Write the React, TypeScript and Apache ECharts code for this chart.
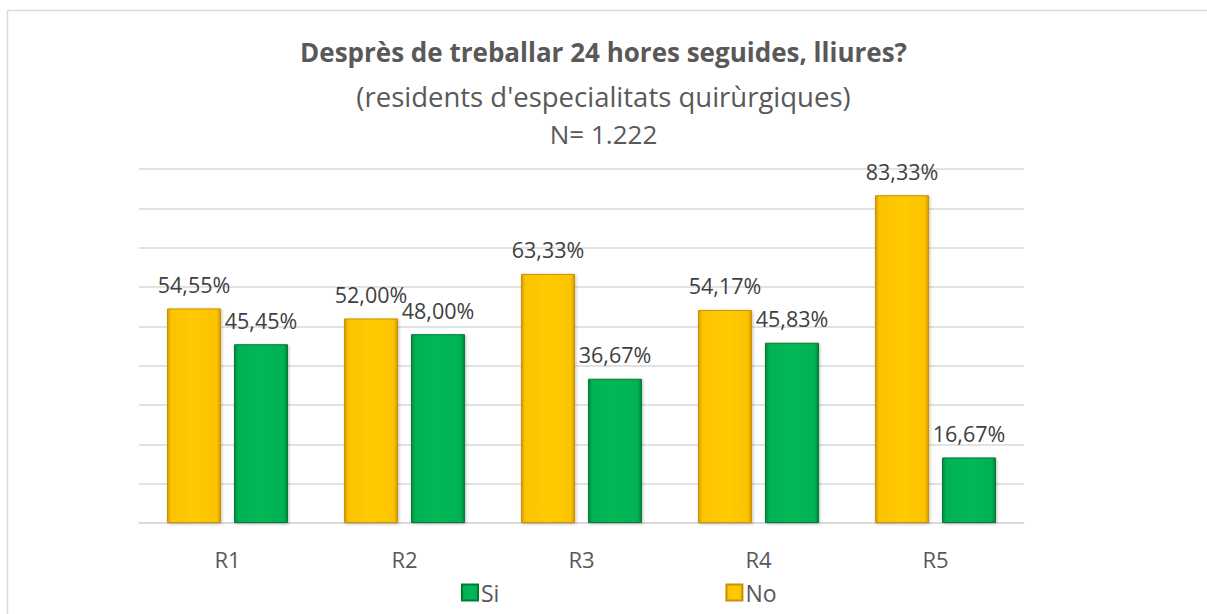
import React, { useEffect, useRef } from "react";
import * as echarts from "echarts";

const categories = ["R1", "R2", "R3", "R4", "R5"];
const noValues = [54.55, 52.0, 63.33, 54.17, 83.33];
const siValues = [45.45, 48.0, 36.67, 45.83, 16.67];
const titleText = "Desprès de treballar 24 hores seguides, lliures?";
const subtitleText = "(residents d'especialitats quirùrgiques)";
const nText = "N= 1.222";

const FONT = "'Open Sans', 'Noto Sans', sans-serif";

const fmt = (v: number) => v.toFixed(2).replace(".", ",") + "%";

const yellowGrad = new echarts.graphic.LinearGradient(0, 0, 1, 0, [
  { offset: 0, color: "#d99e00" },
  { offset: 0.07, color: "#fcc300" },
  { offset: 0.5, color: "#ffcb05" },
  { offset: 0.93, color: "#fcc300" },
  { offset: 1, color: "#d39800" },
]);
const greenGrad = new echarts.graphic.LinearGradient(0, 0, 1, 0, [
  { offset: 0, color: "#008a3e" },
  { offset: 0.07, color: "#00b152" },
  { offset: 0.5, color: "#03b858" },
  { offset: 0.93, color: "#00b152" },
  { offset: 1, color: "#00853c" },
]);

export default function App() {
  const ref = useRef<HTMLDivElement>(null);
  useEffect(() => {
    if (!ref.current) return;
    const chart = echarts.init(ref.current, null, { renderer: "svg" });
    const labelStyle = {
      show: true,
      position: "top" as const,
      distance: 13,
      color: "#404040",
      fontFamily: FONT,
      fontSize: 21.5,
      formatter: (p: any) => fmt(p.value),
    };
    chart.setOption({
      animation: false,
      backgroundColor: "#ffffff",
      title: [
        {
          text: titleText,
          left: "center",
          top: 34,
          textStyle: { color: "#595959", fontFamily: FONT, fontSize: 26, fontWeight: "bold" },
        },
        {
          text: subtitleText,
          left: "center",
          top: 77,
          textStyle: { color: "#595959", fontFamily: FONT, fontSize: 27.5, fontWeight: "normal" },
        },
        {
          text: nText,
          left: "center",
          top: 116,
          textStyle: { color: "#595959", fontFamily: FONT, fontSize: 26, fontWeight: "normal" },
        },
      ],
      graphic: [
        {
          type: "line",
          shape: { x1: 7.5, y1: 10.5, x2: 1207, y2: 10.5 },
          style: { stroke: "#d9d9d9", lineWidth: 1.5 },
          silent: true,
        },
        {
          type: "line",
          shape: { x1: 7.5, y1: 10.5, x2: 7.5, y2: 614 },
          style: { stroke: "#d9d9d9", lineWidth: 1.5 },
          silent: true,
        },
      ],
      legend: {
        left: 456,
        top: 576,
        itemWidth: 16,
        itemHeight: 16,
        itemGap: 226,
        icon: "rect",
        data: ["Si", "No"],
        textStyle: { color: "#595959", fontFamily: FONT, fontSize: 23, padding: [0, 0, 0, -2] },
      },
      grid: { left: 139, right: 183, top: 169, bottom: 91, containLabel: false },
      xAxis: {
        type: "category",
        data: categories,
        axisLine: { lineStyle: { color: "#d9d9d9", width: 1.5 } },
        axisTick: { show: false },
        axisLabel: { color: "#595959", fontFamily: FONT, fontSize: 22, margin: 25 },
      },
      yAxis: {
        type: "value",
        min: 0,
        max: 90,
        interval: 10,
        axisLabel: { show: false },
        axisLine: { show: false },
        axisTick: { show: false },
        splitLine: { lineStyle: { color: "#d9d9d9", width: 1.5 } },
      },
      series: [
        {
          name: "No",
          type: "bar",
          data: noValues,
          barWidth: 54,
          barGap: "24%",
          itemStyle: {
            color: yellowGrad,
            borderColor: "#c89200",
            borderWidth: 1,
            shadowColor: "rgba(0,0,0,0.25)",
            shadowBlur: 3,
            shadowOffsetX: 1,
            shadowOffsetY: 1,
          },
          label: labelStyle,
        },
        {
          name: "Si",
          type: "bar",
          data: siValues,
          barWidth: 54,
          barGap: "24%",
          itemStyle: {
            color: greenGrad,
            borderColor: "#007a36",
            borderWidth: 1,
            shadowColor: "rgba(0,0,0,0.25)",
            shadowBlur: 3,
            shadowOffsetX: 1,
            shadowOffsetY: 1,
          },
          label: labelStyle,
        },
      ],
    });
    return () => chart.dispose();
  }, []);
  return (
    <div
      ref={ref}
      style={{ position: "absolute", left: 0, top: 0, width: 1207, height: 614 }}
    />
  );
}
